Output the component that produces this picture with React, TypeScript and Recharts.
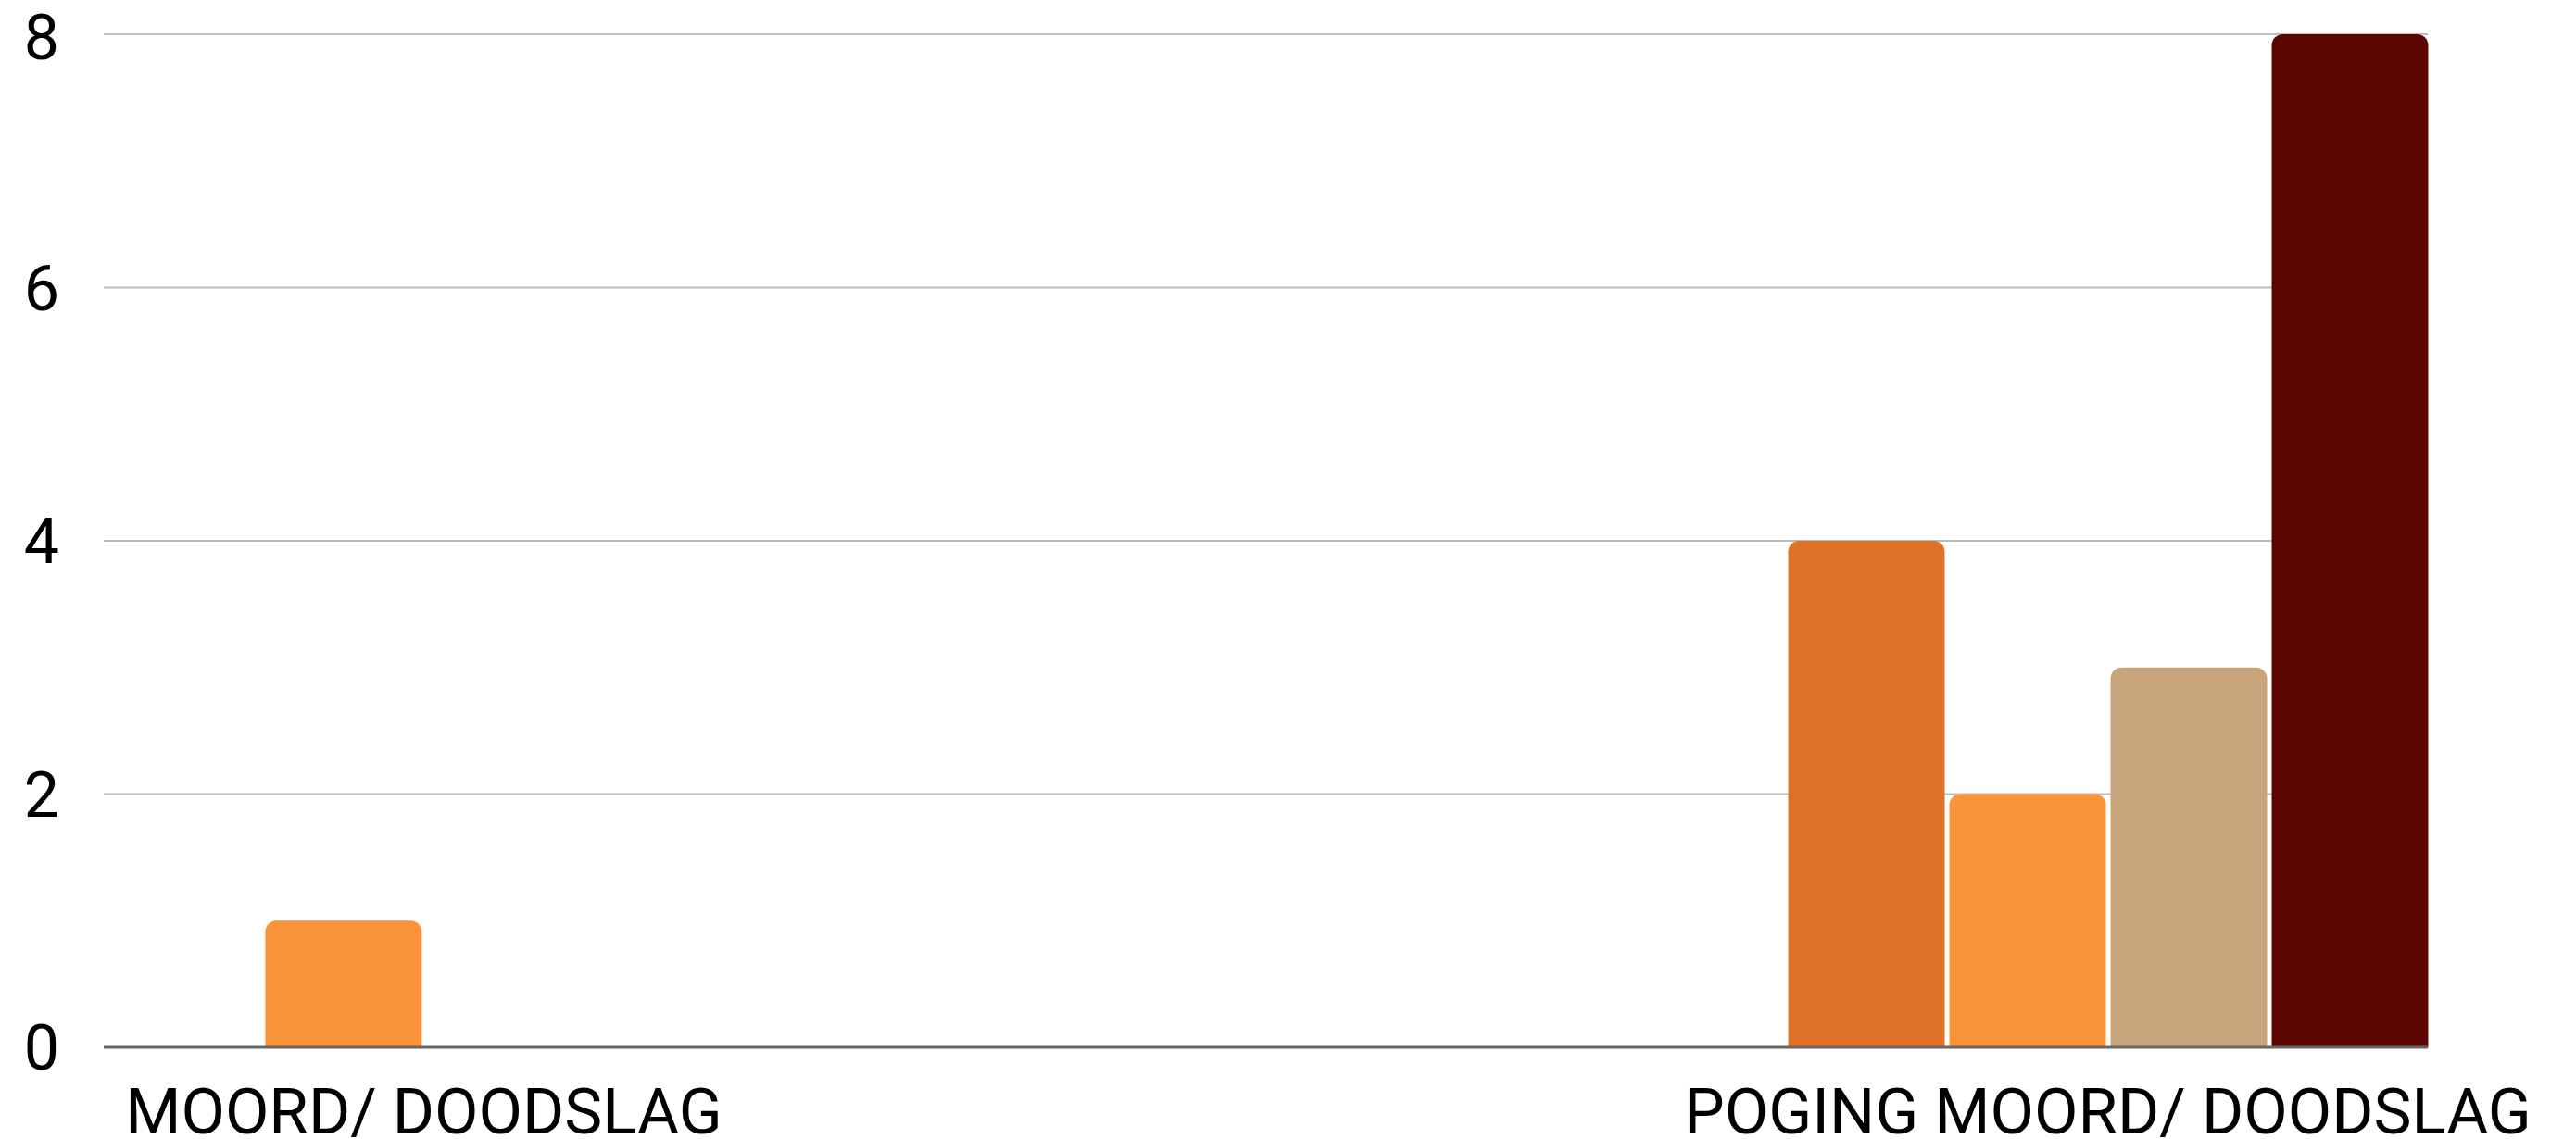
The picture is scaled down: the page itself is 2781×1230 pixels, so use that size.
import { Bar, BarChart, CartesianGrid, XAxis, YAxis } from 'recharts'

// categories sit at x = 0 and x = 1 on a numeric axis so the bar groups hug the plot edges
const categories = ['MOORD/ DOODSLAG', 'POGING MOORD/ DOODSLAG']
const categoryPositions = [0, 1]

const seriesNames = ['Reeks 1', 'Reeks 2', 'Reeks 3', 'Reeks 4']
const reeks1 = [0, 4]
const reeks2 = [1, 2]
const reeks3 = [0, 3]
const reeks4 = [0, 8]
const seriesColors = ['#E07228', '#F9943B', '#C8A57B', '#5C0601']

const yTicks = [0, 2, 4, 6, 8]

const allSeries = [reeks1, reeks2, reeks3, reeks4]

const data = categories.map((name, i) => {
  const row: Record<string, number | string> = { name, pos: categoryPositions[i] }
  seriesNames.forEach((s, k) => {
    row[s] = allSeries[k][i]
  })
  return row
})

const yTickStyle = { fontSize: 68, fill: '#000', fontFamily: 'Roboto' }
const xTickStyle = { fontSize: 69, fill: '#000', fontFamily: 'Roboto' }

function App() {
  return (
    <div style={{ position: 'absolute', left: 0, top: 0, background: '#fff' }}>
      <BarChart
        width={2781}
        height={1230}
        data={data}
        margin={{ top: 37, right: 160, left: 0, bottom: 0 }}
        barSize={169}
        barGap={5}
      >
        <CartesianGrid vertical={false} stroke="#bdbdbd" strokeWidth={2} />
        <XAxis
          type="number"
          dataKey="pos"
          domain={[-0.19, 1.19]}
          ticks={categoryPositions}
          interval={0}
          tickFormatter={(v: number) => categories[v] ?? ''}
          height={99}
          tickLine={false}
          tickSize={0}
          tickMargin={44}
          axisLine={{ stroke: '#666', strokeWidth: 3 }}
          tick={xTickStyle}
        />
        <YAxis
          domain={[0, 8]}
          ticks={yTicks}
          width={112}
          axisLine={false}
          tickLine={false}
          tickSize={0}
          tickMargin={48}
          tick={yTickStyle}
        />
        {seriesNames.map((s, k) => (
          <Bar
            key={s}
            dataKey={s}
            fill={seriesColors[k]}
            radius={[12, 12, 0, 0]}
            isAnimationActive={false}
          />
        ))}
      </BarChart>
    </div>
  )
}

export default App
